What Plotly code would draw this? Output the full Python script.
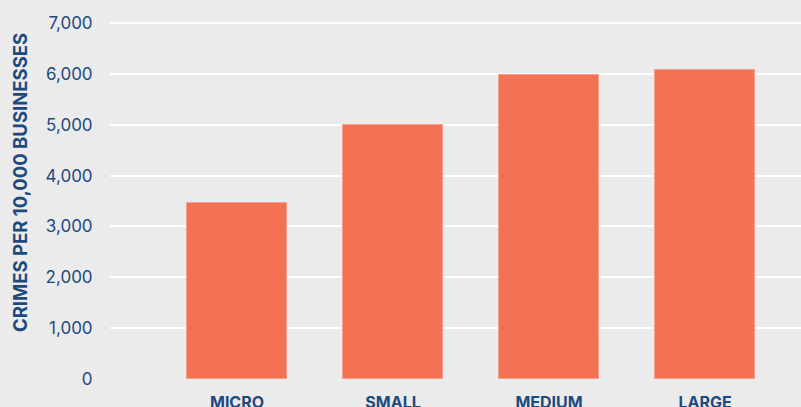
import plotly.graph_objects as go

categories = ["MICRO", "SMALL", "MEDIUM", "LARGE"]
crimes = [3470, 4990, 5980, 6080]
y_ticks = [0, 1000, 2000, 3000, 4000, 5000, 6000, 7000]
y_ticktext = ["0", "1,000", "2,000", "3,000", "4,000", "5,000", "6,000", "7,000"]
y_title = "CRIMES PER 10,000 BUSINESSES"

navy = "#1d4a7e"
bg = "#ebebeb"
fam = "Inter, Roboto, sans-serif"

fig = go.Figure(go.Bar(
    x=categories, y=crimes,
    marker=dict(color="#f37254", line=dict(color="#f5a08c", width=1)),
    width=0.64,
))

fig.update_layout(
    width=801, height=407,
    paper_bgcolor=bg, plot_bgcolor=bg,
    margin=dict(l=110, r=0, t=21, b=28),
    font=dict(family=fam, color=navy),
    showlegend=False,
    bargap=0,
)
fig.update_xaxes(
    type="category", automargin=False,
    range=[-0.814, 3.615],
    showgrid=False, zeroline=False, showline=False,
    ticks="outside", ticklen=9, tickcolor="rgba(0,0,0,0)",
    tickfont=dict(size=16, color=navy, family=fam, weight="bold"),
)
fig.update_yaxes(
    automargin=False,
    range=[0, 7040],
    tickvals=y_ticks, ticktext=y_ticktext,
    showgrid=True, gridcolor="white", gridwidth=2,
    zeroline=False, showline=False,
    ticks="outside", ticklen=13, tickcolor="rgba(0,0,0,0)",
    tickfont=dict(size=17, color=navy),
)
fig.add_annotation(
    text=y_title, textangle=-90,
    xref="paper", yref="paper", x=-0.130, y=0.548,
    xanchor="center", yanchor="middle", showarrow=False,
    font=dict(size=18.5, color=navy, family=fam, weight="bold"),
)

fig.write_html(
    "out.html",
    config={"displayModeBar": False},
    post_script="document.body.style.margin='0';document.body.style.background='%s';" % bg,
)
